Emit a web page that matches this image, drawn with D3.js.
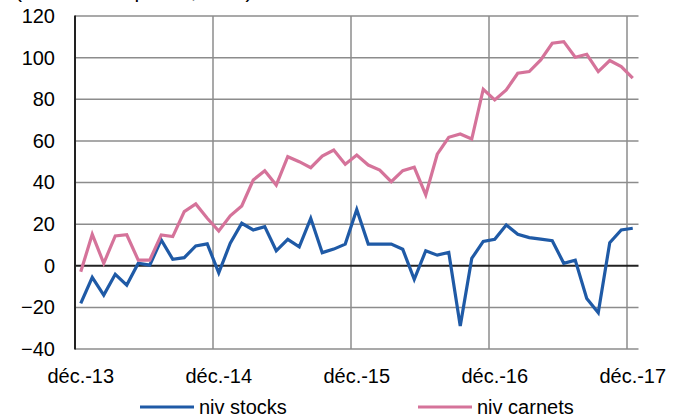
<!DOCTYPE html>
<html>
<head>
<meta charset="utf-8">
<script src="https://cdn.jsdelivr.net/npm/d3@7"></script>
<style>
  body { margin: 0; background: #fff; }
  svg text { font-family: "Liberation Sans", Arial, sans-serif; fill: #000; }
</style>
</head>
<body>
<div id="container"></div>
<script>
const w = 682;
const h = 419;

// monthly, déc.-13 to déc.-17
const monthNames = ["janv.", "févr.", "mars", "avr.", "mai", "juin", "juil.", "août", "sept.", "oct.", "nov.", "déc."];
const months = [];
for (let i = 0; i < 49; i++) {
  const m = (11 + i) % 12;
  const yr = 13 + Math.floor((11 + i) / 12);
  months.push(monthNames[m] + "-" + yr);
}
const stocks = [-18.1, -5.6, -14.1, -4.1, -9.3, 1.2, 0.3, 12.4, 3.1, 3.9, 9.5, 10.5,
  -3.4, 10.8, 20.4, 17.2, 18.8, 7.2, 12.7, 9.1, 22.8, 6.3, 8.0, 10.4,
  27.0, 10.4, 10.4, 10.4, 7.9, -6.5, 7.2, 5.1, 6.4, -29.0, 3.5, 11.7,
  12.7, 19.6, 15.1, 13.5, 12.8, 12.0, 1.2, 2.7, -15.7, -22.6, 11.1, 17.2, 18.0];
const carnets = [-2.9, 15.1, 1.2, 14.3, 14.9, 2.7, 2.7, 14.8, 14.0, 26.0, 29.7, 22.8,
  16.7, 24.0, 28.7, 41.2, 45.7, 38.8, 52.4, 50.0, 47.1, 52.7, 55.6, 48.8,
  53.2, 48.4, 46.0, 40.4, 45.7, 47.3, 34.0, 53.6, 61.7, 63.3, 60.9, 84.8,
  79.7, 84.5, 92.5, 93.3, 98.9, 106.9, 107.7, 100.2, 101.6, 93.3, 98.6, 95.7, 90.1];
const yTicks = [-40, -20, 0, 20, 40, 60, 80, 100, 120];
const xTickIdx = [0, 12, 24, 36, 48];

const pLeft = 75, pRight = 638.5, pTop = 16, pBottom = 349;

const svg = d3.select("#container").append("svg")
  .attr("width", w).attr("height", h);

// title, cut off at the top as in the source picture
svg.append("text")
  .attr("x", 15).attr("y", -2)
  .style("font-size", "21px")
  .text("(en solde d'opinion, CVS)");

const x = d3.scaleBand()
  .domain(d3.range(months.length))
  .range([pLeft, pRight])
  .padding(0);
const y = d3.scaleLinear()
  .domain([-40, 120])
  .range([pBottom, pTop]);
const cx = (i) => x(i) + x.bandwidth() / 2;

// horizontal grid
svg.append("g").selectAll("line").data(yTicks.filter((d) => d !== 0)).enter().append("line")
  .attr("x1", pLeft).attr("x2", pRight)
  .attr("y1", (d) => y(d)).attr("y2", (d) => y(d))
  .attr("stroke", "#8c8c8c").attr("stroke-width", 1.5);

// vertical grid at category boundaries
svg.append("g").selectAll("line").data(xTickIdx.slice(1)).enter().append("line")
  .attr("x1", (d) => x(d)).attr("x2", (d) => x(d))
  .attr("y1", pTop).attr("y2", pBottom)
  .attr("stroke", "#8c8c8c").attr("stroke-width", 1.5);

// zero line and left axis
svg.append("line")
  .attr("x1", pLeft).attr("x2", pRight)
  .attr("y1", y(0)).attr("y2", y(0))
  .attr("stroke", "#222").attr("stroke-width", 2);
svg.append("line")
  .attr("x1", pLeft).attr("x2", pLeft)
  .attr("y1", pTop - 0.5).attr("y2", pBottom + 0.5)
  .attr("stroke", "#222").attr("stroke-width", 2);

const yAxis = d3.axisLeft(y).tickValues(yTicks).tickSize(0).tickPadding(20);
svg.append("g")
  .attr("transform", "translate(" + pLeft + ",0)")
  .call(yAxis)
  .call((g) => g.select(".domain").remove())
  .selectAll("text").style("font-size", "20px").attr("fill", "#000");

const xAxis = d3.axisBottom(x).tickValues(xTickIdx).tickSize(0).tickPadding(20)
  .tickFormat((i) => months[i]);
svg.append("g")
  .attr("transform", "translate(0," + pBottom + ")")
  .call(xAxis)
  .call((g) => g.select(".domain").remove())
  .selectAll("text").style("font-size", "20px").attr("fill", "#000");

const line = d3.line()
  .x((d, i) => cx(i))
  .y((d) => y(d));

const series = [
  { name: "niv stocks", values: stocks, color: "#1f5aa6" },
  { name: "niv carnets", values: carnets, color: "#d5739a" }
];

svg.selectAll("path.serie").data(series).enter().append("path")
  .attr("class", "serie")
  .attr("d", (d) => line(d.values))
  .attr("fill", "none")
  .attr("stroke", (d) => d.color)
  .attr("stroke-width", 3.2)
  .attr("stroke-linejoin", "miter");

// legend
const legendX = [140, 418];
const lg = svg.selectAll("g.legend").data(series).enter().append("g")
  .attr("class", "legend")
  .attr("transform", (d, i) => "translate(" + legendX[i] + ",407)");
lg.append("line")
  .attr("x1", 0).attr("x2", 54)
  .attr("stroke", (d) => d.color).attr("stroke-width", 3.2);
lg.append("text")
  .attr("x", 59).attr("dy", "0.35em")
  .style("font-size", "20px")
  .text((d) => d.name);
</script>
</body>
</html>
